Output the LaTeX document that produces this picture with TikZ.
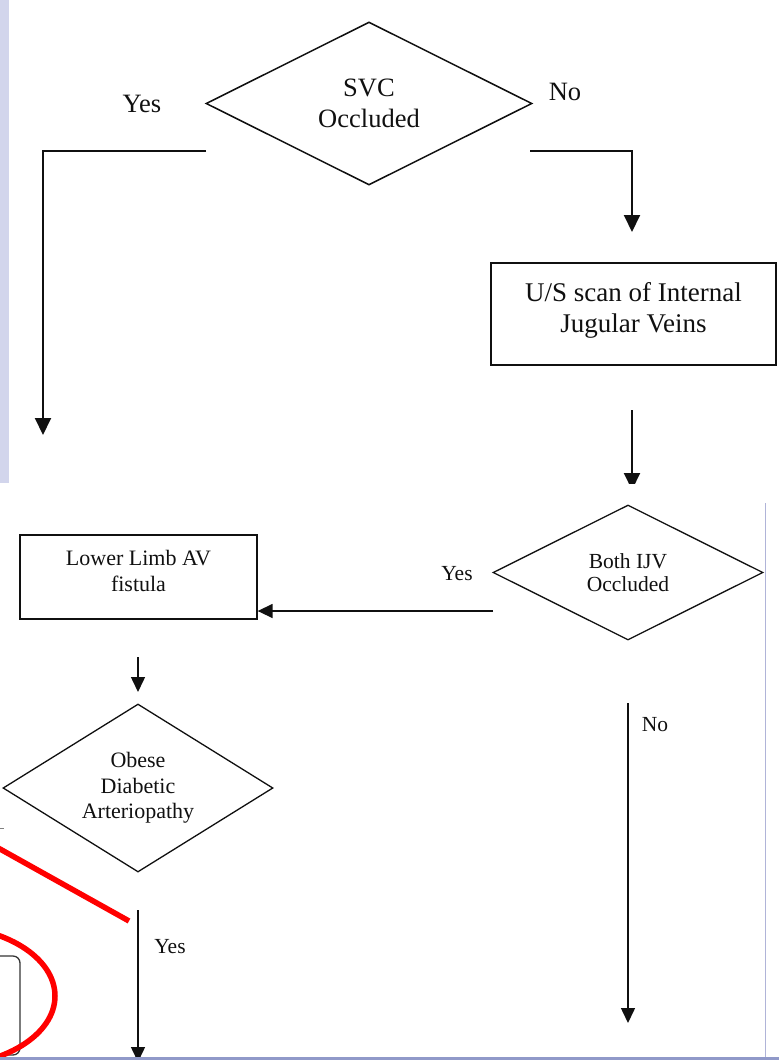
\documentclass[tikz,border=0pt]{standalone}
\usepackage{fontspec}
\setmainfont{Liberation Serif}
\usetikzlibrary{shapes.geometric,arrows.meta}
\definecolor{lav}{HTML}{D2D5EC}
\definecolor{bandc}{HTML}{9099C9}
\definecolor{edgec}{HTML}{B0B4D8}
\definecolor{ink}{HTML}{101010}
\begin{document}
\begin{tikzpicture}[x=1pt,y=-1pt,
  bigfont/.style={font=\fontsize{26.5}{31}\selectfont},
  usfont/.style={font=\fontsize{27}{31}\selectfont},
  smallfont/.style={font=\fontsize{22}{25.5}\selectfont},
  ijvfont/.style={font=\fontsize{21.5}{23.5}\selectfont},
  decision/.style={draw=ink, diamond, shape aspect=2, inner sep=0pt, align=center, text=ink},
  rectbox/.style={draw=ink, rectangle, inner sep=0pt},
  txt/.style={align=center, inner sep=0pt, text=ink},
  conntop/.style={draw=ink, line width=2pt, -{Triangle[length=17pt,width=16pt]}},
  connbot/.style={draw=ink, line width=1.5pt, -{Triangle[length=15pt,width=14pt]}},
  redmark/.style={draw=red, line width=5.5pt},
]
\useasboundingbox (0,0) rectangle (779,1060);
\begin{scope}
\clip (0,0) rectangle (779,1060);
% screenshot frame bits
\fill[lav] (0,0) rectangle (9,483);
\draw[edgec, line width=1pt] (765,503) -- (765,1057);

% top part
\node[decision, line width=1.5pt, minimum width=326pt, minimum height=163pt, bigfont] (svc) at (369,103.5) {SVC\\Occluded};
\node[txt, bigfont] (svcyeslbl) at (142,104) {Yes};
\node[txt, bigfont] (svcnolbl) at (565,92) {No};

\coordinate (svcyes) at (206,151);
\coordinate (svcyesend) at (43,435);
\draw[conntop] (svcyes) -| (svcyesend);
\coordinate (svcno) at (530,151);
\coordinate (svcnoend) at (632,232);
\draw[conntop] (svcno) -| (svcnoend);

\node[rectbox, line width=1.5pt, minimum width=285pt, minimum height=102pt] (us) at (633.5,314) {};
\node[txt, usfont] (ustext) at (633.5,310) {U/S scan of Internal\\Jugular Veins};

\coordinate (usout) at (632,410);
\coordinate (ijvin) at (632,490);
\begin{scope}
\clip (0,0) rectangle (779,483);
\draw[conntop] (usout) -- (ijvin);
\end{scope}

% bottom part
\node[decision, line width=1.3pt, minimum width=270pt, minimum height=135pt, ijvfont] (ijv) at (628,572.5) {Both IJV\\Occluded};
\node[txt, ijvfont] (ijvyeslbl) at (457,574) {Yes};
\node[txt, ijvfont] (ijvnolbl) at (655,725) {No};

\node[rectbox, line width=1.3pt, minimum width=237pt, minimum height=84pt] (ll) at (138.5,577) {};
\node[txt, smallfont] (lltext) at (138.5,571) {Lower Limb AV\\fistula};

\coordinate (ijvyes) at (493,611);
\draw[connbot] (ijvyes) -- (ijvyes -| ll.east);

\coordinate (llout) at (138,657);
\coordinate (obin) at (138,692);
\draw[connbot] (llout) -- (obin);

\node[decision, line width=1.3pt, minimum width=270pt, minimum height=168pt, smallfont] (ob) at (138,788) {Obese\\Diabetic\\Arteriopathy};

\coordinate (obyes) at (138,910);
\coordinate (obyesend) at (138,1062);
\draw[connbot] (obyes) -- (obyesend);
\node[txt, ijvfont] (obyeslbl) at (170,947) {Yes};

\coordinate (ijvno) at (628,703);
\coordinate (ijvnoend) at (628,1023);
\draw[connbot] (ijvno) -- (ijvnoend);

% partial box and annotation marks at bottom left
\draw[ink!85, line width=1.3pt, rounded corners=7pt] (-60,956) rectangle (20,1055);
\draw[gray, line width=1pt] (0,828) -- (4,828);
\draw[redmark] (-10,843.4) -- (129,921);
\draw[redmark] (-58,996) ellipse [x radius=113, y radius=70];

\fill[bandc] (0,1056.5) rectangle (779,1060);
\end{scope}
\end{tikzpicture}
\end{document}
